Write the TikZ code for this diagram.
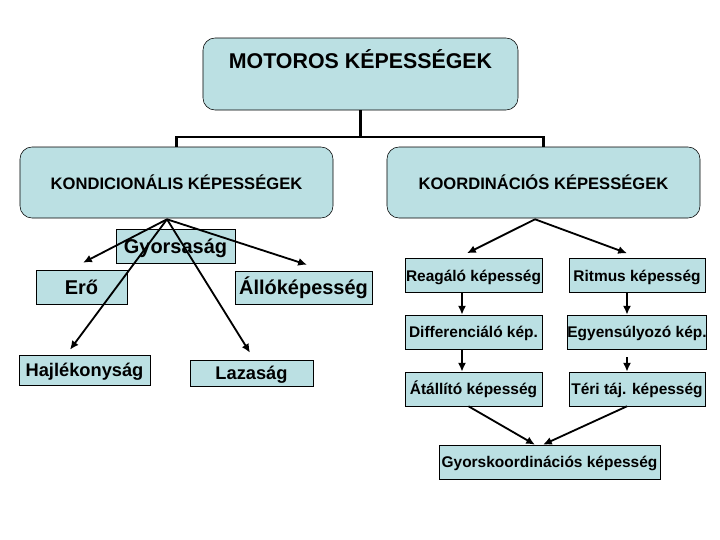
\documentclass[tikz,border=0pt]{standalone}
\usepackage{fontspec}
\setmainfont{Liberation Sans}
\usetikzlibrary{arrows.meta,calc}
\definecolor{halvany}{RGB}{187,224,227}
\tikzset{
  fobox/.style={draw=black,fill=halvany,rounded corners=3mm,thin},
  kbox/.style={draw=black,fill=halvany,thin,inner xsep=0pt,inner ysep=0pt,
    text height=8.2pt,text depth=0pt,
    minimum height=8.5mm,font=\fontsize{11}{12}\selectfont\bfseries},
  nbox/.style={draw=black,fill=halvany,thin,inner xsep=0pt,inner ysep=0pt,
    text height=10.4pt,text depth=0pt,
    font=\fontsize{14.2}{15}\selectfont\bfseries},
  nyil/.style={-{Latex[length=2.2mm,width=2mm]},line width=1.3pt},
}

\begin{document}
\begin{tikzpicture}[x=0.25mm,y=-0.25mm]
        \useasboundingbox (0,0) rectangle (720,540);
        % fo doboz es a ket ag
        \node[fobox,minimum width=78.75mm,minimum height=18mm] (motor) at (360.5,74) {};
        \node[font=\fontsize{15.2}{17}\selectfont\bfseries] (motorlbl) at ($(motor.north)+(0,21)$) {MOTOROS KÉPESSÉGEK};
        \node[fobox,minimum width=78.25mm,minimum height=17.75mm,font=\fontsize{11.8}{13}\selectfont\bfseries] (kond) at (176.5,182.5) {KONDICIONÁLIS KÉPESSÉGEK};
        \node[fobox,minimum width=78.25mm,minimum height=17.75mm,font=\fontsize{11.8}{13}\selectfont\bfseries] (koord) at (543.5,182.5) {KOORDINÁCIÓS KÉPESSÉGEK};
        \coordinate (bar) at (360.5,137);
        \draw[line width=2pt] (motor.south) -- (bar);
        \draw[line width=2pt] (kond.north) |- (bar) -| (koord.north);

        % kondicionalis oldal
        \node[nbox,minimum width=29.75mm,minimum height=8.5mm] (gyors) at (175.5,246.5) {Gyorsaság};
        \node[nbox,minimum width=22.75mm,minimum height=8.5mm] (ero) at (81.5,287) {Erő};
        \node[nbox,minimum width=34.25mm,minimum height=8.25mm] (allo) at (303.5,287.5) {Állóképesség};
        \node[nbox,minimum width=32.75mm,minimum height=7.5mm,text height=9.4pt,font=\fontsize{13}{15}\selectfont\bfseries] (hajl) at (84.5,370) {Hajlékonyság};
        \node[nbox,minimum width=30.75mm,minimum height=6.5mm,text height=9.4pt,font=\fontsize{13}{15}\selectfont\bfseries] (laza) at (251.5,373) {Lazaság};
        \coordinate (kcsucs) at ($(kond.south)+(-9.5,1)$);
        \draw[nyil] (kcsucs) -- ($(ero.north)+(1.5,-7)$);
        \draw[nyil] (kcsucs) -- ($(hajl.north)+(-14.5,-5)$);
        \draw[nyil] (kcsucs) -- ($(laza.north)+(-1.5,-7)$);
        \draw[nyil] (kcsucs) -- ($(allo.north)+(3.5,-6)$);

        % koordinacios oldal
        \foreach \nm/\txt/\y in {reag/Reagáló képesség/275.5,diff/Differenciáló kép./332,atal/Átállító képesség/389}{
          \node[kbox,minimum width=34.25mm] (\nm) at (473.5,\y) {\txt};
        }
        \foreach \nm/\txt/\y in {ritm/Ritmus képesség/275.5,egy/Egyensúlyozó kép./332,teri/Téri táj. képesség/389}{
          \node[kbox,minimum width=34mm] (\nm) at (637,\y) {\txt};
        }
        \node[kbox,minimum width=55.25mm] (gyk) at (549.5,462) {Gyorskoordinációs képesség};
        \coordinate (kocsucs) at ($(koord.south)+(-8.5,1)$);
        \draw[nyil] (kocsucs) -- ($(reag.north)+(-6.5,-5)$);
        \draw[nyil] (kocsucs) -- ($(ritm.north)+(-10,-5)$);
        \draw[nyil] ($(reag.south)+(-11.5,0)$) -- ($(diff.north)+(-11.5,0)$);
        \draw[nyil] ($(diff.south)+(-11.5,0)$) -- ($(atal.north)+(-11.5,0)$);
        \draw[nyil] ($(ritm.south)+(-10,0)$) -- ($(egy.north)+(-10,0)$);
        \draw[nyil] ($(egy.south)+(-10,8)$) -- ($(teri.north)+(-10,0)$);
        \draw[nyil] ($(atal.south)+(-5,0)$) -- ($(gyk.north)+(-14.5,0)$);
        \draw[nyil] ($(teri.south)+(-10,0)$) -- ($(gyk.north)+(-6.5,0)$);
      \end{tikzpicture}
\end{document}
